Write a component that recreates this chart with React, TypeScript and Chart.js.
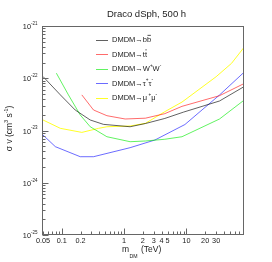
import { useEffect, useRef } from 'react';
import { Chart, registerables } from 'chart.js';
Chart.register(...registerables);

const FONT = '"Liberation Sans", Arial, Helvetica, sans-serif';

const titleText = 'Draco dSph, 500 h';

// DMDM -> b bbar
const bbMass = [0.05, 0.095, 0.164, 0.286, 0.467, 1.25, 2.2, 4.5, 9.0, 34, 84];
const bbSigma = [1.08e-22, 4.8e-23, 2.47e-23, 1.59e-23, 1.31e-23, 1.18e-23, 1.36e-23, 1.7e-23, 2.25e-23, 3.67e-23, 6.9e-23];
// DMDM -> t tbar
const ttMass = [0.21, 0.323, 0.53, 1.04, 2.2, 4.5, 8.5, 34, 84];
const ttSigma = [4.8e-23, 2.47e-23, 1.92e-23, 1.66e-23, 1.72e-23, 2.1e-23, 2.9e-23, 4.64e-23, 7.9e-23];
// DMDM -> W+ W-
const wwMass = [0.082, 0.128, 0.198, 0.286, 0.53, 1.25, 2.2, 4.5, 8.5, 34, 84];
const wwSigma = [1.25e-22, 4.8e-23, 1.98e-23, 1.18e-23, 7.6e-24, 6.1e-24, 6.3e-24, 6.8e-24, 7.6e-24, 1.66e-23, 3.8e-23];
// DMDM -> tau+ tau-
const tauMass = [0.05, 0.079, 0.198, 0.323, 1.25, 3.13, 9.46, 34, 84];
const tauSigma = [8.2e-24, 4.9e-24, 3.15e-24, 3.15e-24, 4.69e-24, 6.58e-24, 1.3e-23, 4.78e-23, 1.3e-22];
// DMDM -> mu+ mu-
const muMass = [0.05, 0.095, 0.21, 0.39, 0.53, 1.25, 2.2, 4.5, 8.5, 30, 53, 84];
const muSigma = [1.59e-23, 1.1e-23, 9.2e-24, 1.1e-23, 1.18e-23, 1.22e-23, 1.37e-23, 2.29e-23, 3.5e-23, 1.07e-22, 1.93e-22, 3.9e-22];

const xMin = 0.0482;
const xMax = 84;
const yMin = 1e-25;
const yMax = 1e-21;

const xTickLabels = [0.05, 0.1, 0.2, 1, 2, 3, 4, 5, 10, 20, 30];
const xMajorTicks = [0.1, 1, 10];
const yDecades = [-25, -24, -23, -22, -21];

type Part = { t: string; k?: 'n' | 'sup' | 'sub'; bar?: boolean };

function drawRich(ctx: CanvasRenderingContext2D, parts: Part[], x: number, y: number, size: number, align: 'left' | 'center' | 'right', color: string) {
  const widths = parts.map((p) => {
    const s = !p.k || p.k === 'n' ? size : size * 0.62;
    ctx.font = `${s}px ${FONT}`;
    return ctx.measureText(p.t).width;
  });
  const total = widths.reduce((a, b) => a + b, 0);
  let cx = align === 'left' ? x : align === 'center' ? x - total / 2 : x - total;
  ctx.fillStyle = color;
  ctx.strokeStyle = color;
  ctx.textBaseline = 'middle';
  ctx.textAlign = 'left';
  parts.forEach((p, i) => {
    const s = !p.k || p.k === 'n' ? size : size * 0.62;
    ctx.font = `${s}px ${FONT}`;
    const dy = p.k === 'sup' ? -size * 0.45 : p.k === 'sub' ? size * 0.4 : 0;
    ctx.fillText(p.t, cx, y + dy);
    if (p.bar) {
      ctx.lineWidth = 0.8;
      ctx.beginPath();
      ctx.moveTo(cx + 0.5, y - size * 0.62);
      ctx.lineTo(cx + widths[i] - 0.3, y - size * 0.62);
      ctx.stroke();
    }
    cx += widths[i];
  });
}

const series = [
  { label: 'bb', mass: bbMass, sigma: bbSigma, color: 'rgba(0,0,0,0.62)' },
  { label: 'tt', mass: ttMass, sigma: ttSigma, color: 'rgba(255,0,0,0.58)' },
  { label: 'WW', mass: wwMass, sigma: wwSigma, color: 'rgba(0,235,0,0.62)' },
  { label: 'tautau', mass: tauMass, sigma: tauSigma, color: 'rgba(0,0,255,0.58)' },
  { label: 'mumu', mass: muMass, sigma: muSigma, color: 'rgba(255,255,0,0.85)' },
];

const legendParts: Part[][] = [
  [{ t: 'DMDM' }, { t: '\u2192' }, { t: 'b' }, { t: 'b', bar: true }],
  [{ t: 'DMDM' }, { t: '\u2192' }, { t: 't' }, { t: 't', bar: true }],
  [{ t: 'DMDM' }, { t: '\u2192' }, { t: 'W' }, { t: '+', k: 'sup' }, { t: 'W' }, { t: '-', k: 'sup' }],
  [{ t: 'DMDM' }, { t: '\u2192' }, { t: '\u03c4' }, { t: '+', k: 'sup' }, { t: '\u03c4' }, { t: '-', k: 'sup' }],
  [{ t: 'DMDM' }, { t: '\u2192' }, { t: '\u03bc' }, { t: ' +', k: 'sup' }, { t: '\u03bc' }, { t: '-', k: 'sup' }],
];

const decorPlugin = {
  id: 'rootDecor',
  afterDraw(chart: any) {
    const ctx: CanvasRenderingContext2D = chart.ctx;
    const { left, right, top, bottom } = chart.chartArea;
    const xs = chart.scales.x;
    const ys = chart.scales.y;
    const axisColor = '#666666';
    const textColor = '#222222';
    ctx.save();
    // frame
    ctx.strokeStyle = axisColor;
    ctx.lineWidth = 1;
    const L = Math.round(left) + 0.5;
    const R = Math.round(right) - 0.5;
    const T = Math.round(top) + 0.5;
    const B = Math.round(bottom) - 0.5;
    ctx.strokeRect(L, T, R - L, B - T);

    // x ticks
    ctx.beginPath();
    for (let d = -2; d <= 1; d++) {
      for (let m = 1; m <= 9; m++) {
        const v = m * Math.pow(10, d);
        if (v < xMin || v > xMax) continue;
        const px = Math.round(xs.getPixelForValue(v)) + 0.5;
        const major = xMajorTicks.some((t) => Math.abs(t - v) / t < 1e-6);
        const len = major ? 6 : 3;
        ctx.moveTo(px, B);
        ctx.lineTo(px, B - len);
      }
    }
    // y ticks
    for (let d = -25; d < -21; d++) {
      for (let m = 1; m <= 9; m++) {
        const v = m * Math.pow(10, d);
        const py = Math.round(ys.getPixelForValue(v)) + 0.5;
        const len = m === 1 ? 6 : 3;
        ctx.moveTo(L, py);
        ctx.lineTo(L + len, py);
      }
    }
    ctx.stroke();

    // x tick labels
    xTickLabels.forEach((v) => {
      const px = xs.getPixelForValue(v);
      drawRich(ctx, [{ t: String(v) }], px, bottom + 6, 7.3, 'center', textColor);
    });
    // y tick labels
    yDecades.forEach((d) => {
      const py = ys.getPixelForValue(Math.pow(10, d));
      drawRich(ctx, [{ t: '10' }, { t: String(d), k: 'sup' }], left - 4.5, py + 1, 7.3, 'right', textColor);
    });

    // axis titles
    drawRich(ctx, [{ t: 'm' }], 122, 250, 8.5, 'left', textColor);
    drawRich(ctx, [{ t: 'DM' }], 129.5, 257, 5.2, 'left', textColor);
    drawRich(ctx, [{ t: '(TeV)' }], 141, 250, 8.5, 'left', textColor);

    ctx.save();
    ctx.translate(10, 128.5);
    ctx.rotate(-Math.PI / 2);
    drawRich(
      ctx,
      [{ t: '\u03c3 v (cm' }, { t: '3', k: 'sup' }, { t: ' s' }, { t: '-1', k: 'sup' }, { t: ')' }],
      0,
      0,
      8.5,
      'center',
      textColor
    );
    ctx.restore();

    // title
    drawRich(ctx, [{ t: titleText }], 146.5, 14, 9.5, 'center', textColor);

    // legend
    series.forEach((s, i) => {
      const y = 39.5 + i * 14.5;
      ctx.strokeStyle = s.color;
      ctx.lineWidth = 1;
      ctx.beginPath();
      ctx.moveTo(96, Math.round(y) + 0.5);
      ctx.lineTo(108, Math.round(y) + 0.5);
      ctx.stroke();
      drawRich(ctx, legendParts[i], 112, y + 0.5, 7.5, 'left', textColor);
    });
    ctx.restore();
  },
};

export default function App() {
  const ref = useRef<HTMLCanvasElement | null>(null);
  useEffect(() => {
    document.body.style.margin = '0';
    const canvas = ref.current;
    if (!canvas) return;
    const chart = new Chart(canvas, {
      type: 'scatter',
      data: {
        datasets: series.map((s) => ({
          label: s.label,
          data: s.mass.map((m, i) => ({ x: m, y: s.sigma[i] })),
          showLine: true,
          borderColor: s.color,
          backgroundColor: s.color,
          borderWidth: 1,
          pointRadius: 0,
          tension: 0,
          fill: false,
        })),
      },
      options: {
        responsive: false,
        animation: false,
        devicePixelRatio: 1,
        layout: { padding: { left: 42, right: 28, top: 26, bottom: 27 } },
        plugins: { legend: { display: false }, tooltip: { enabled: false }, title: { display: false } },
        scales: {
          x: { type: 'logarithmic', min: xMin, max: xMax, display: false },
          y: { type: 'logarithmic', min: yMin, max: yMax, display: false },
        },
      },
      plugins: [decorPlugin],
    });
    return () => chart.destroy();
  }, []);
  return <canvas ref={ref} width={272} height={262} style={{ display: 'block', width: 272, height: 262 }} />;
}
